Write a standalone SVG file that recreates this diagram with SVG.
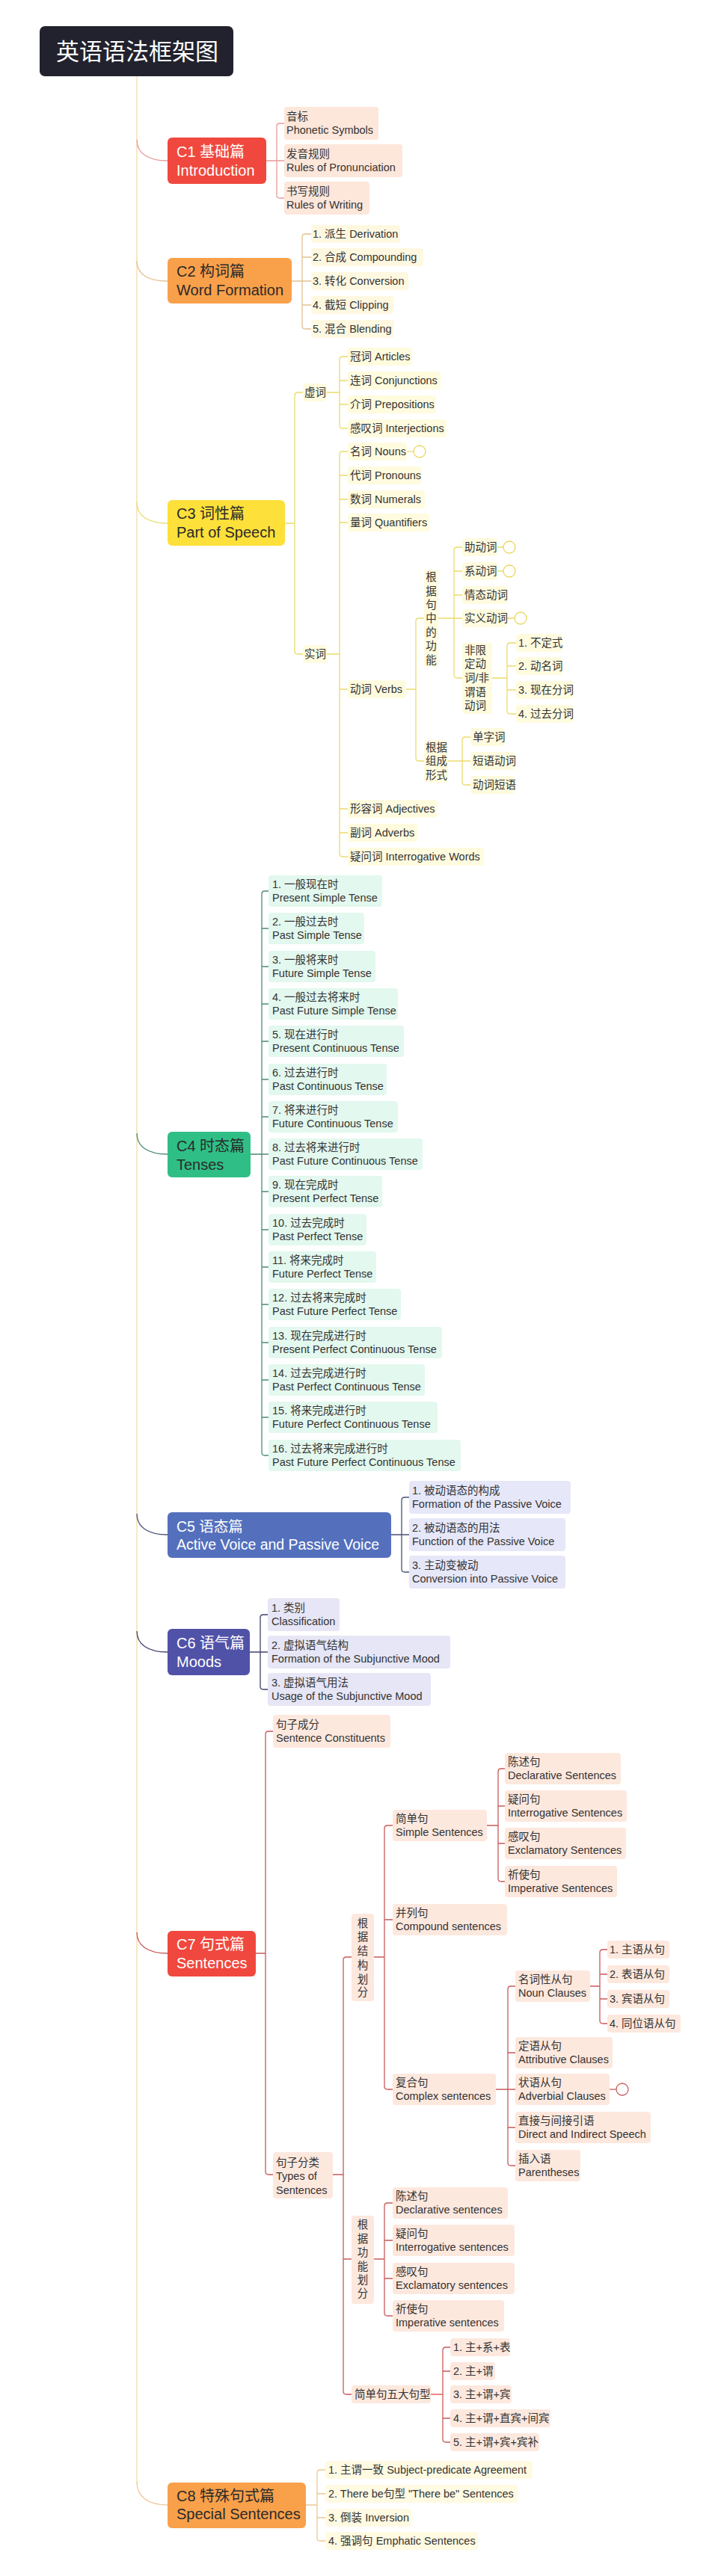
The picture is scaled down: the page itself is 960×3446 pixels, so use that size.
<svg xmlns="http://www.w3.org/2000/svg" width="960" height="3446" viewBox="0 0 960 3446">
<style>
text{font-family:"Liberation Sans","Noto Sans CJK SC",sans-serif}
.t{font-size:14.5px;fill:#333}
.ch{font-size:20px}
.w{fill:#fff}
.d{fill:#2a2a2a}
.vc{text-anchor:middle}
.ln{fill:none;stroke-width:1.3}
.k1{stroke:#e79a9a}.k2{stroke:#e2c18f}.k3{stroke:#ebdc6a}.k4{stroke:#4d8b73}.k5{stroke:#4a5275}.k6{stroke:#3f426b}.k7{stroke:#c85a5a}.k8{stroke:#eec894}
.b1{fill:#fde6da}.b2{fill:#fff8e1}.b3{fill:#fffbdf}.b4{fill:#e3f8ee}.b5{fill:#e6e7f8}.b6{fill:#e6e6f6}.b7{fill:#fde8de}.b8{fill:#fffae2}
.cc3{fill:#fff;stroke:#e8d85a;stroke-width:1.3}
.cc7{fill:#fff;stroke:#c85a5a;stroke-width:1.3}
</style>
<rect width="960" height="3446" fill="#fff"/>

<g id="connectors">
<path class="ln" stroke="#f5dba6" d="M183 102V3322"/>
<path class="ln k1" d="M183 187C183 205 198 215 224 215"/>
<path class="ln k2" d="M183 349C183 367 198 376 224 376"/>
<path class="ln k3" d="M183 672C183 690 198 700 224 700"/>
<path class="ln k4" d="M183 1516C183 1534 198 1544 224 1544"/>
<path class="ln k5" d="M183 2025C183 2043 198 2053 224 2053"/>
<path class="ln k6" d="M183 2182C183 2200 198 2210 224 2210"/>
<path class="ln k7" d="M183 2585C183 2603 198 2613 224 2613"/>
<path class="ln k8" d="M183 3320C183 3340 198 3351 224 3351"/>

<path class="ln k1" d="M356 215H370M380 165H374Q370 165 370 169V261Q370 265 374 265H380M370 215H380"/>
<path class="ln k2" d="M390 376H404M416 313H408Q404 313 404 317V436Q404 440 408 440H416M404 344H416M404 376H416M404 408H416"/>
<path class="ln k3" d="M381 700H394M405 525H398Q394 525 394 529V871Q394 875 398 875H405"/>
<path class="ln k3" d="M437 525H454M465 477H458Q454 477 454 481V569Q454 573 458 573H465M454 509H465M454 541H465"/>
<path class="ln k3" d="M437 875H454M465 604H458Q454 604 454 608V1142Q454 1146 458 1146H465M454 636H465M454 668H465M454 699H465M454 922H465M454 1082H465M454 1114H465"/>
<path class="ln k3" d="M544 604H553"/>
<path class="ln k3" d="M543 922H556M567 827H560Q556 827 556 831V1014Q556 1018 560 1018H567"/>
<path class="ln k3" d="M586 827H607M618 732H611Q607 732 607 736V903Q607 907 611 907H618M607 764H618M607 796H618M607 827H618"/>
<path class="ln k3" d="M665 732H673M665 764H673M678 827H688"/>
<path class="ln k3" d="M658 907H678M690 860H682Q678 860 678 864V951Q678 955 682 955H690M678 891H690M678 923H690"/>
<path class="ln k3" d="M599 1018H618M629 986H622Q618 986 618 990V1046Q618 1050 622 1050H629M618 1018H629"/>

<path class="ln k4" d="M335 1544H350M359 1192H354Q350 1192 350 1196V1943Q350 1947 354 1947H359M350 1242H359M350 1293H359M350 1343H359M350 1393H359M350 1444H359M350 1494H359M350 1544H359M350 1594H359M350 1645H359M350 1695H359M350 1745H359M350 1796H359M350 1846H359M350 1896H359"/>

<path class="ln k5" d="M523 2053H537M547 2003H541Q537 2003 537 2007V2099Q537 2103 541 2103H547M537 2053H547"/>
<path class="ln k6" d="M334 2210H348M358 2160H352Q348 2160 348 2164V2256Q348 2260 352 2260H358M348 2210H358"/>

<path class="ln k7" d="M342 2613H355M365 2316H359Q355 2316 355 2320V2905Q355 2909 359 2909H365"/>
<path class="ln k7" d="M445 2909H459M470 2618H463Q459 2618 459 2622V3199Q459 3203 463 3203H470M459 3022H470"/>
<path class="ln k7" d="M500 2618H514M525 2442H518Q514 2442 514 2446V2791Q514 2795 518 2795H525M514 2568H525"/>
<path class="ln k7" d="M651 2442H666M675 2366H670Q666 2366 666 2370V2513Q666 2517 670 2517H675M666 2416H675M666 2466H675"/>
<path class="ln k7" d="M663 2795H679M689 2657H683Q679 2657 679 2661V2893Q679 2897 683 2897H689M679 2746H689M679 2795H689M679 2846H689"/>
<path class="ln k7" d="M815 2795H824"/>
<path class="ln k7" d="M789 2657H802M812 2608H806Q802 2608 802 2612V2703Q802 2707 806 2707H812M802 2641H812M802 2674H812"/>
<path class="ln k7" d="M500 3022H514M525 2947H518Q514 2947 514 2951V3094Q514 3098 518 3098H525M514 2997H525M514 3048H525"/>
<path class="ln" stroke="#e0464a" stroke-width="2" d="M576 3203H592"/>
<path class="ln k7" d="M602 3140H596Q592 3140 592 3144V3263Q592 3267 596 3267H602M592 3172H602M592 3235H602"/>

<path class="ln k8" d="M409 3351H424M435 3304H428Q424 3304 424 3308V3395Q424 3399 428 3399H435M424 3336H435M424 3368H435"/>
</g>

<g id="title">
<rect x="53" y="35" width="259" height="67" rx="7" fill="#22222e"/>
<text x="75" y="80" font-size="31" class="w">英语语法框架图</text>
</g>

<g id="c1">
<rect x="224" y="184" width="132" height="62" rx="6" fill="#f0483e"/>
<text class="ch w" x="236" y="210">C1 基础篇</text>
<text class="ch w" x="236" y="235">Introduction</text>
</g>
<g id="c1-items">
<rect class="b1" x="380" y="143" width="126" height="44" rx="4"/>
<text class="t" x="383" y="161">音标</text><text class="t" x="383" y="179">Phonetic Symbols</text>
<rect class="b1" x="380" y="193" width="158" height="44" rx="4"/>
<text class="t" x="383" y="211">发音规则</text><text class="t" x="383" y="229">Rules of Pronunciation</text>
<rect class="b1" x="380" y="243" width="114" height="44" rx="4"/>
<text class="t" x="383" y="261">书写规则</text><text class="t" x="383" y="279">Rules of Writing</text>
</g>

<g id="c2">
<rect x="224" y="345" width="166" height="61" rx="6" fill="#f9a04a"/>
<text class="ch d" x="236" y="370">C2 构词篇</text>
<text class="ch d" x="236" y="395">Word Formation</text>
</g>
<g id="c2-items">
<rect class="b2" x="416" y="301" width="119" height="24" rx="4"/><text class="t" x="418" y="318">1. 派生 Derivation</text>
<rect class="b2" x="416" y="332" width="150" height="24" rx="4"/><text class="t" x="418" y="349">2. 合成 Compounding</text>
<rect class="b2" x="416" y="364" width="130" height="24" rx="4"/><text class="t" x="418" y="381">3. 转化 Conversion</text>
<rect class="b2" x="416" y="396" width="110" height="24" rx="4"/><text class="t" x="418" y="413">4. 截短 Clipping</text>
<rect class="b2" x="416" y="428" width="111" height="24" rx="4"/><text class="t" x="418" y="445">5. 混合 Blending</text>
</g>

<g id="c3">
<rect x="224" y="669" width="157" height="61" rx="6" fill="#fde03a"/>
<text class="ch d" x="236" y="694">C3 词性篇</text>
<text class="ch d" x="236" y="719">Part of Speech</text>
</g>
<g id="c3-function-words">
<rect class="b3" x="405" y="513" width="32" height="24" rx="4"/><text class="t" x="407" y="530">虚词</text>
<rect class="b3" x="465" y="465" width="86" height="24" rx="4"/><text class="t" x="468" y="482">冠词 Articles</text>
<rect class="b3" x="465" y="497" width="124" height="24" rx="4"/><text class="t" x="468" y="514">连词 Conjunctions</text>
<rect class="b3" x="465" y="529" width="118" height="24" rx="4"/><text class="t" x="468" y="546">介词 Prepositions</text>
<rect class="b3" x="465" y="561" width="132" height="24" rx="4"/><text class="t" x="468" y="578">感叹词 Interjections</text>
</g>
<g id="c3-content-words">
<rect class="b3" x="405" y="863" width="32" height="24" rx="4"/><text class="t" x="407" y="880">实词</text>
<rect class="b3" x="465" y="592" width="79" height="24" rx="4"/><text class="t" x="468" y="609">名词 Nouns</text>
<circle class="cc3" cx="561" cy="604" r="8"/>
<rect class="b3" x="465" y="624" width="99" height="24" rx="4"/><text class="t" x="468" y="641">代词 Pronouns</text>
<rect class="b3" x="465" y="656" width="103" height="24" rx="4"/><text class="t" x="468" y="673">数词 Numerals</text>
<rect class="b3" x="465" y="687" width="109" height="24" rx="4"/><text class="t" x="468" y="704">量词 Quantifiers</text>
<rect class="b3" x="465" y="910" width="78" height="24" rx="4"/><text class="t" x="468" y="927">动词 Verbs</text>
<rect class="b3" x="465" y="1070" width="120" height="24" rx="4"/><text class="t" x="468" y="1087">形容词 Adjectives</text>
<rect class="b3" x="465" y="1102" width="93" height="24" rx="4"/><text class="t" x="468" y="1119">副词 Adverbs</text>
<rect class="b3" x="465" y="1134" width="182" height="24" rx="4"/><text class="t" x="468" y="1151">疑问词 Interrogative Words</text>
</g>
<g id="c3-verbs">
<rect class="b3" x="567" y="762" width="19" height="130" rx="4"/>
<text class="t vc" x="576.5"><tspan x="576.5" y="777">根</tspan><tspan x="576.5" y="796">据</tspan><tspan x="576.5" y="814">句</tspan><tspan x="576.5" y="832">中</tspan><tspan x="576.5" y="851">的</tspan><tspan x="576.5" y="869">功</tspan><tspan x="576.5" y="888">能</tspan></text>
<rect class="b3" x="618" y="720" width="47" height="24" rx="4"/><text class="t" x="621" y="737">助动词</text>
<circle class="cc3" cx="681" cy="732" r="8"/>
<rect class="b3" x="618" y="752" width="47" height="24" rx="4"/><text class="t" x="621" y="769">系动词</text>
<circle class="cc3" cx="681" cy="764" r="8"/>
<rect class="b3" x="618" y="784" width="61" height="24" rx="4"/><text class="t" x="621" y="801">情态动词</text>
<rect class="b3" x="618" y="815" width="60" height="24" rx="4"/><text class="t" x="621" y="832">实义动词</text>
<circle class="cc3" cx="696" cy="827" r="8"/>
<rect class="b3" x="618" y="860" width="40" height="95" rx="4"/>
<text class="t"><tspan x="621" y="875">非限</tspan><tspan x="621" y="893">定动</tspan><tspan x="621" y="912">词/非</tspan><tspan x="621" y="931">谓语</tspan><tspan x="621" y="949">动词</tspan></text>
<rect class="b3" x="690" y="848" width="62" height="24" rx="4"/><text class="t" x="693" y="865">1. 不定式</text>
<rect class="b3" x="690" y="879" width="62" height="24" rx="4"/><text class="t" x="693" y="896">2. 动名词</text>
<rect class="b3" x="690" y="911" width="77" height="24" rx="4"/><text class="t" x="693" y="928">3. 现在分词</text>
<rect class="b3" x="690" y="943" width="77" height="24" rx="4"/><text class="t" x="693" y="960">4. 过去分词</text>
<rect class="b3" x="567" y="990" width="32" height="57" rx="4"/>
<text class="t"><tspan x="569" y="1005">根据</tspan><tspan x="569" y="1023">组成</tspan><tspan x="569" y="1042">形式</tspan></text>
<rect class="b3" x="629" y="974" width="46" height="24" rx="4"/><text class="t" x="632" y="991">单字词</text>
<rect class="b3" x="629" y="1006" width="59" height="24" rx="4"/><text class="t" x="632" y="1023">短语动词</text>
<rect class="b3" x="629" y="1038" width="59" height="24" rx="4"/><text class="t" x="632" y="1055">动词短语</text>
</g>

<g id="c4">
<rect x="224" y="1514" width="111" height="61" rx="6" fill="#2fbf86"/>
<text class="ch d" x="236" y="1540">C4 时态篇</text>
<text class="ch d" x="236" y="1565">Tenses</text>
</g>
<g id="c4-items">
<rect class="b4" x="359" y="1171" width="152" height="42" rx="4"/><text class="t" x="364" y="1188">1. 一般现在时</text><text class="t" x="364" y="1206">Present Simple Tense</text>
<rect class="b4" x="359" y="1221" width="128" height="42" rx="4"/><text class="t" x="364" y="1238">2. 一般过去时</text><text class="t" x="364" y="1256">Past Simple Tense</text>
<rect class="b4" x="359" y="1272" width="143" height="42" rx="4"/><text class="t" x="364" y="1289">3. 一般将来时</text><text class="t" x="364" y="1307">Future Simple Tense</text>
<rect class="b4" x="359" y="1322" width="173" height="42" rx="4"/><text class="t" x="364" y="1339">4. 一般过去将来时</text><text class="t" x="364" y="1357">Past Future Simple Tense</text>
<rect class="b4" x="359" y="1372" width="181" height="42" rx="4"/><text class="t" x="364" y="1389">5. 现在进行时</text><text class="t" x="364" y="1407">Present Continuous Tense</text>
<rect class="b4" x="359" y="1423" width="158" height="42" rx="4"/><text class="t" x="364" y="1440">6. 过去进行时</text><text class="t" x="364" y="1458">Past Continuous Tense</text>
<rect class="b4" x="359" y="1473" width="173" height="42" rx="4"/><text class="t" x="364" y="1490">7. 将来进行时</text><text class="t" x="364" y="1508">Future Continuous Tense</text>
<rect class="b4" x="359" y="1523" width="206" height="42" rx="4"/><text class="t" x="364" y="1540">8. 过去将来进行时</text><text class="t" x="364" y="1558">Past Future Continuous Tense</text>
<rect class="b4" x="359" y="1573" width="152" height="42" rx="4"/><text class="t" x="364" y="1590">9. 现在完成时</text><text class="t" x="364" y="1608">Present Perfect Tense</text>
<rect class="b4" x="359" y="1624" width="131" height="42" rx="4"/><text class="t" x="364" y="1641">10. 过去完成时</text><text class="t" x="364" y="1659">Past Perfect Tense</text>
<rect class="b4" x="359" y="1674" width="144" height="42" rx="4"/><text class="t" x="364" y="1691">11. 将来完成时</text><text class="t" x="364" y="1709">Future Perfect Tense</text>
<rect class="b4" x="359" y="1724" width="177" height="42" rx="4"/><text class="t" x="364" y="1741">12. 过去将来完成时</text><text class="t" x="364" y="1759">Past Future Perfect Tense</text>
<rect class="b4" x="359" y="1775" width="232" height="42" rx="4"/><text class="t" x="364" y="1792">13. 现在完成进行时</text><text class="t" x="364" y="1810">Present Perfect Continuous Tense</text>
<rect class="b4" x="359" y="1825" width="209" height="42" rx="4"/><text class="t" x="364" y="1842">14. 过去完成进行时</text><text class="t" x="364" y="1860">Past Perfect Continuous Tense</text>
<rect class="b4" x="359" y="1875" width="226" height="42" rx="4"/><text class="t" x="364" y="1892">15. 将来完成进行时</text><text class="t" x="364" y="1910">Future Perfect Continuous Tense</text>
<rect class="b4" x="359" y="1926" width="257" height="42" rx="4"/><text class="t" x="364" y="1943">16. 过去将来完成进行时</text><text class="t" x="364" y="1961">Past Future Perfect Continuous Tense</text>
</g>

<g id="c5">
<rect x="224" y="2023" width="299" height="61" rx="6" fill="#5470bd"/>
<text class="w" font-size="19.5" x="236" y="2049">C5 语态篇</text>
<text class="w" font-size="19.5" x="236" y="2073">Active Voice and Passive Voice</text>
</g>
<g id="c5-items">
<rect class="b5" x="547" y="1981" width="216" height="44" rx="4"/><text class="t" x="551" y="1999">1. 被动语态的构成</text><text class="t" x="551" y="2017">Formation of the Passive Voice</text>
<rect class="b5" x="547" y="2031" width="209" height="44" rx="4"/><text class="t" x="551" y="2049">2. 被动语态的用法</text><text class="t" x="551" y="2067">Function of the Passive Voice</text>
<rect class="b5" x="547" y="2081" width="209" height="44" rx="4"/><text class="t" x="551" y="2099">3. 主动变被动</text><text class="t" x="551" y="2117">Conversion into Passive Voice</text>
</g>

<g id="c6">
<rect x="224" y="2179" width="110" height="62" rx="6" fill="#5052a8"/>
<text class="ch w" x="236" y="2205">C6 语气篇</text>
<text class="ch w" x="236" y="2230">Moods</text>
</g>
<g id="c6-items">
<rect class="b6" x="358" y="2138" width="96" height="44" rx="4"/><text class="t" x="363" y="2156">1. 类别</text><text class="t" x="363" y="2174">Classification</text>
<rect class="b6" x="358" y="2188" width="244" height="44" rx="4"/><text class="t" x="363" y="2206">2. 虚拟语气结构</text><text class="t" x="363" y="2224">Formation of the Subjunctive Mood</text>
<rect class="b6" x="358" y="2238" width="218" height="44" rx="4"/><text class="t" x="363" y="2256">3. 虚拟语气用法</text><text class="t" x="363" y="2274">Usage of the Subjunctive Mood</text>
</g>

<g id="c7">
<rect x="224" y="2583" width="118" height="61" rx="6" fill="#f0483e"/>
<text class="ch w" x="236" y="2608">C7 句式篇</text>
<text class="ch w" x="236" y="2633">Sentences</text>
</g>
<g id="c7-constituents">
<rect class="b7" x="365" y="2294" width="157" height="44" rx="4"/><text class="t" x="369" y="2312">句子成分</text><text class="t" x="369" y="2330">Sentence Constituents</text>
</g>
<g id="c7-types">
<rect class="b7" x="365" y="2879" width="80" height="62" rx="4"/><text class="t" x="369" y="2898">句子分类</text><text class="t" x="369" y="2916">Types of</text><text class="t" x="369" y="2935">Sentences</text>
</g>
<g id="c7-structure">
<rect class="b7" x="470" y="2560" width="30" height="117" rx="4"/>
<text class="t vc"><tspan x="485" y="2578">根</tspan><tspan x="485" y="2596">据</tspan><tspan x="485" y="2615">结</tspan><tspan x="485" y="2634">构</tspan><tspan x="485" y="2653">划</tspan><tspan x="485" y="2670">分</tspan></text>
<rect class="b7" x="525" y="2421" width="126" height="42" rx="4"/><text class="t" x="529" y="2438">简单句</text><text class="t" x="529" y="2456">Simple Sentences</text>
<rect class="b7" x="675" y="2345" width="155" height="42" rx="4"/><text class="t" x="679" y="2362">陈述句</text><text class="t" x="679" y="2380">Declarative Sentences</text>
<rect class="b7" x="675" y="2395" width="163" height="42" rx="4"/><text class="t" x="679" y="2412">疑问句</text><text class="t" x="679" y="2430">Interrogative Sentences</text>
<rect class="b7" x="675" y="2445" width="162" height="42" rx="4"/><text class="t" x="679" y="2462">感叹句</text><text class="t" x="679" y="2480">Exclamatory Sentences</text>
<rect class="b7" x="675" y="2496" width="150" height="42" rx="4"/><text class="t" x="679" y="2513">祈使句</text><text class="t" x="679" y="2531">Imperative Sentences</text>
<rect class="b7" x="525" y="2547" width="153" height="42" rx="4"/><text class="t" x="529" y="2564">并列句</text><text class="t" x="529" y="2582">Compound sentences</text>
<rect class="b7" x="525" y="2774" width="138" height="42" rx="4"/><text class="t" x="529" y="2791">复合句</text><text class="t" x="529" y="2809">Complex sentences</text>
<rect class="b7" x="689" y="2636" width="100" height="42" rx="4"/><text class="t" x="693" y="2653">名词性从句</text><text class="t" x="693" y="2671">Noun Clauses</text>
<rect class="b7" x="812" y="2596" width="83" height="24" rx="4"/><text class="t" x="815" y="2613">1. 主语从句</text>
<rect class="b7" x="812" y="2629" width="83" height="24" rx="4"/><text class="t" x="815" y="2646">2. 表语从句</text>
<rect class="b7" x="812" y="2662" width="83" height="24" rx="4"/><text class="t" x="815" y="2679">3. 宾语从句</text>
<rect class="b7" x="812" y="2695" width="98" height="24" rx="4"/><text class="t" x="815" y="2712">4. 同位语从句</text>
<rect class="b7" x="689" y="2725" width="130" height="42" rx="4"/><text class="t" x="693" y="2742">定语从句</text><text class="t" x="693" y="2760">Attributive Clauses</text>
<rect class="b7" x="689" y="2774" width="126" height="42" rx="4"/><text class="t" x="693" y="2791">状语从句</text><text class="t" x="693" y="2809">Adverbial Clauses</text>
<circle class="cc7" cx="832" cy="2795" r="8"/>
<rect class="b7" x="689" y="2825" width="181" height="42" rx="4"/><text class="t" x="693" y="2842">直接与间接引语</text><text class="t" x="693" y="2860">Direct and Indirect Speech</text>
<rect class="b7" x="689" y="2876" width="87" height="42" rx="4"/><text class="t" x="693" y="2893">插入语</text><text class="t" x="693" y="2911">Parentheses</text>
</g>
<g id="c7-function">
<rect class="b7" x="470" y="2964" width="30" height="118" rx="4"/>
<text class="t vc"><tspan x="485" y="2981">根</tspan><tspan x="485" y="3000">据</tspan><tspan x="485" y="3018">功</tspan><tspan x="485" y="3037">能</tspan><tspan x="485" y="3055">划</tspan><tspan x="485" y="3073">分</tspan></text>
<rect class="b7" x="525" y="2926" width="154" height="42" rx="4"/><text class="t" x="529" y="2943">陈述句</text><text class="t" x="529" y="2961">Declarative sentences</text>
<rect class="b7" x="525" y="2976" width="163" height="42" rx="4"/><text class="t" x="529" y="2993">疑问句</text><text class="t" x="529" y="3011">Interrogative sentences</text>
<rect class="b7" x="525" y="3027" width="163" height="42" rx="4"/><text class="t" x="529" y="3044">感叹句</text><text class="t" x="529" y="3062">Exclamatory sentences</text>
<rect class="b7" x="525" y="3077" width="149" height="42" rx="4"/><text class="t" x="529" y="3094">祈使句</text><text class="t" x="529" y="3112">Imperative sentences</text>
</g>
<g id="c7-patterns">
<rect class="b7" x="470" y="3191" width="106" height="24" rx="4"/><text class="t" x="474" y="3208">简单句五大句型</text>
<rect class="b7" x="602" y="3128" width="80" height="24" rx="4"/><text class="t" x="606" y="3145">1. 主+系+表</text>
<rect class="b7" x="602" y="3160" width="60" height="24" rx="4"/><text class="t" x="606" y="3177">2. 主+谓</text>
<rect class="b7" x="602" y="3191" width="82" height="24" rx="4"/><text class="t" x="606" y="3208">3. 主+谓+宾</text>
<rect class="b7" x="602" y="3223" width="134" height="24" rx="4"/><text class="t" x="606" y="3240">4. 主+谓+直宾+间宾</text>
<rect class="b7" x="602" y="3255" width="119" height="24" rx="4"/><text class="t" x="606" y="3272">5. 主+谓+宾+宾补</text>
</g>

<g id="c8">
<rect x="224" y="3321" width="185" height="61" rx="6" fill="#f9a04a"/>
<text class="ch d" x="236" y="3346">C8 特殊句式篇</text>
<text class="ch d" x="236" y="3370">Special Sentences</text>
</g>
<g id="c8-items">
<rect class="b8" x="435" y="3292" width="277" height="24" rx="4"/><text class="t" x="439" y="3309">1. 主谓一致 Subject-predicate Agreement</text>
<rect class="b8" x="435" y="3324" width="257" height="24" rx="4"/><text class="t" x="439" y="3341">2. There be句型 "There be" Sentences</text>
<rect class="b8" x="435" y="3356" width="115" height="24" rx="4"/><text class="t" x="439" y="3373">3. 倒装 Inversion</text>
<rect class="b8" x="435" y="3387" width="204" height="24" rx="4"/><text class="t" x="439" y="3404">4. 强调句 Emphatic Sentences</text>
</g>
</svg>
